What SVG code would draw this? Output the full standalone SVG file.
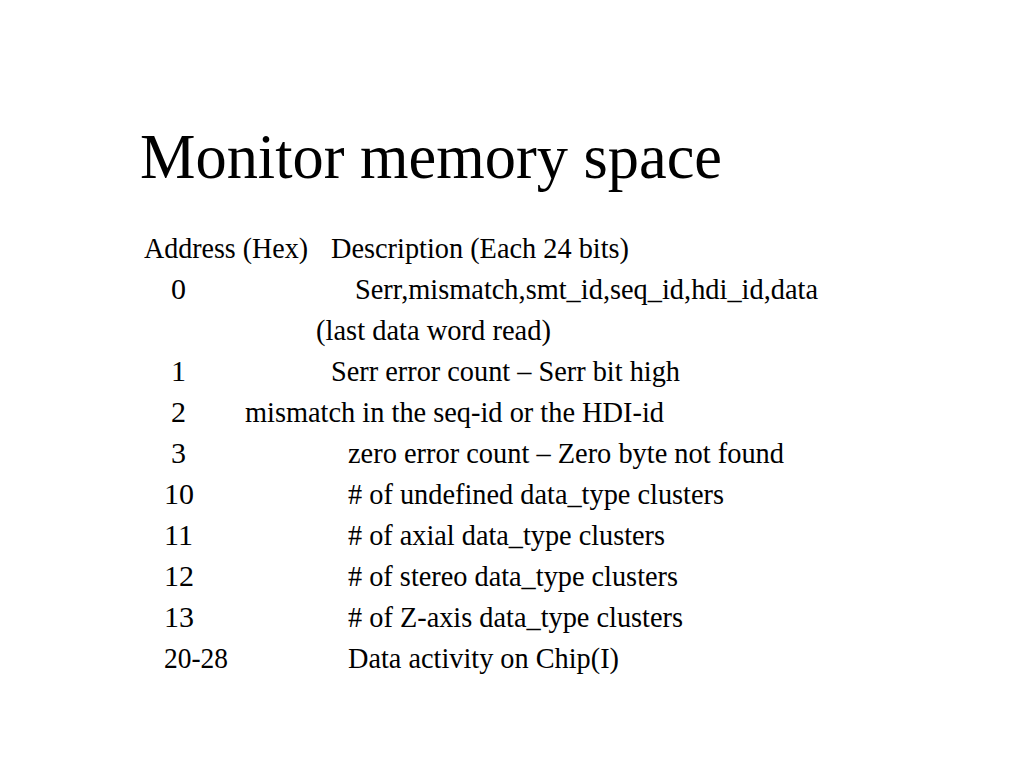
<svg xmlns="http://www.w3.org/2000/svg" width="1024" height="768" viewBox="0 0 1024 768">
<style>
text{font-family:"Liberation Serif","Times New Roman",serif;fill:#000}
.t{font-size:64px}
.b{font-size:30px}
</style>
<rect width="1024" height="768" fill="#fff"/>
<g id="title"><text class="t" x="140" y="178" textLength="582" lengthAdjust="spacingAndGlyphs">Monitor memory space</text></g>
<g id="table" class="b">
<text class="b" x="144" y="258" textLength="164" lengthAdjust="spacingAndGlyphs">Address (Hex)</text>
<text class="b" x="331" y="258" textLength="298" lengthAdjust="spacingAndGlyphs">Description (Each 24 bits)</text>
<text class="b" x="171" y="299">0</text>
<text class="b" x="355" y="299" textLength="463" lengthAdjust="spacingAndGlyphs">Serr,mismatch,smt_id,seq_id,hdi_id,data</text>
<text class="b" x="316" y="340" textLength="235" lengthAdjust="spacingAndGlyphs">(last data word read)</text>
<text class="b" x="171" y="381">1</text>
<text class="b" x="331" y="381" textLength="349" lengthAdjust="spacingAndGlyphs">Serr error count – Serr bit high</text>
<text class="b" x="171" y="422">2</text>
<text class="b" x="245" y="422" textLength="419" lengthAdjust="spacingAndGlyphs">mismatch in the seq-id or the HDI-id</text>
<text class="b" x="171" y="463">3</text>
<text class="b" x="348" y="463" textLength="436" lengthAdjust="spacingAndGlyphs">zero error count – Zero byte not found</text>
<text class="b" x="164" y="504">10</text>
<text class="b" x="348" y="504" textLength="376" lengthAdjust="spacingAndGlyphs"># of undefined data_type clusters</text>
<text class="b" x="164" y="545">11</text>
<text class="b" x="348" y="545" textLength="317" lengthAdjust="spacingAndGlyphs"># of axial data_type clusters</text>
<text class="b" x="164" y="586">12</text>
<text class="b" x="348" y="586" textLength="330" lengthAdjust="spacingAndGlyphs"># of stereo data_type clusters</text>
<text class="b" x="164" y="627">13</text>
<text class="b" x="348" y="627" textLength="335" lengthAdjust="spacingAndGlyphs"># of Z-axis data_type clusters</text>
<text class="b" x="164" y="668" textLength="64" lengthAdjust="spacingAndGlyphs">20-28</text>
<text class="b" x="348" y="668" textLength="271" lengthAdjust="spacingAndGlyphs">Data activity on Chip(I)</text>
</g>
</svg>
